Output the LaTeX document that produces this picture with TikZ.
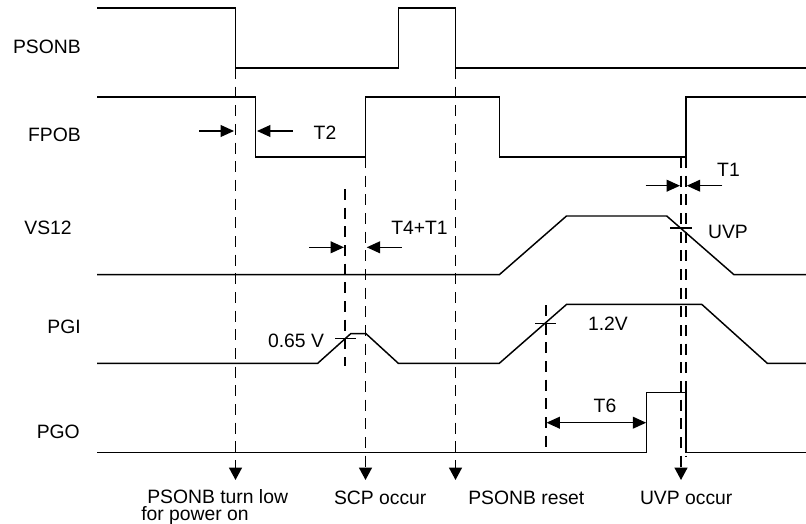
\documentclass[tikz,border=0pt]{standalone}
\usepackage{fontspec}
\setmainfont{Liberation Sans}
\usetikzlibrary{arrows.meta}

\begin{document}
\begin{tikzpicture}[
x=0.75pt, y=-0.75pt,
font=\fontsize{14.5}{13}\selectfont,
signal/.style={line width=1.1pt},
guide/.style={line width=1.1pt, dash pattern=on 8.2pt off 5.8pt},
evline/.style={guide, -{Triangle[length=9.2pt, width=9.6pt]}},
gap/.style={line width=1.1pt, -{Triangle[length=10pt, width=8.8pt]}},
spanline/.style={line width=1.1pt, {Triangle[length=10pt, width=8.8pt]}-{Triangle[length=10pt, width=8.8pt]}},
thr/.style={line width=1.1pt},
signame/.style={anchor=east, inner sep=0pt},
lbl/.style={inner sep=0pt}
]
\useasboundingbox (0,0) rectangle (806,524);

% signal names
\node[signame] (psonb) at (81,47) {PSONB};
\node[signame] (fpob) at (81,135.3) {FPOB};
\node[signame] (vs12) at (72,227.7) {VS12};
\node[signame] (pgi) at (81,326.8) {PGI};
\node[signame] (pgo) at (80,431.8) {PGO};

% waveforms
\draw[signal] (97,8) -- (235.5,8) -- (235.5,68) -- (398.3,68) -- (398.3,8)
  -- (455.5,8) -- (455.5,68) -- (806,68);
\draw[signal] (97,97) -- (255.7,97) -- (255.7,157) -- (365.5,157) -- (365.5,97)
  -- (499.3,97) -- (499.3,157) -- (686,157) -- (686,97) -- (806,97);
\draw[signal] (97,274.7) -- (499.3,274.7) -- (566.5,216) -- (666.7,216)
  -- (734,274.7) -- (806,274.7);
\draw[signal] (97,363.3) -- (317.7,363.3) -- (350.7,333.7) -- (366,333.7)
  -- (398.3,363.3) -- (499.3,363.3) -- (566.7,304.3) -- (701.7,304.3)
  -- (767.3,363.3) -- (806,363.3);
\draw[signal] (97,452.7) -- (646.7,452.7) -- (646.7,392.7) -- (686,392.7)
  -- (686,452.7) -- (806,452.7);

% events
\node[lbl, anchor=north west, align=left] (evlow) at (141,489.3) {\hspace*{4.5pt}PSONB turn low\\for power on};
\node[lbl, anchor=base] (evscp) at (380.2,504) {SCP occur};
\node[lbl, anchor=base] (evreset) at (526.3,504) {PSONB reset};
\node[lbl, anchor=base] (evuvp) at (686.2,504) {UVP occur};

\coordinate (lowtop) at (235.5,68);
\coordinate (lowend) at (235.5,480);
\coordinate (scptop) at (365.5,157);
\coordinate (scpend) at (365.5,480);
\coordinate (resettop) at (455.5,68);
\coordinate (resetend) at (455.5,480);
\coordinate (uvptop) at (681,157);
\coordinate (uvpend) at (681,480);
\draw[evline] (lowtop) -- (lowend);
\draw[evline] (scptop) -- (scpend);
\draw[evline] (resettop) -- (resetend);
\draw[evline] (uvptop) -- (uvpend);

% other guides
\coordinate (g1a) at (345,189);
\coordinate (g1b) at (345,366);
\coordinate (g2a) at (546,305);
\coordinate (g2b) at (546,454);
\coordinate (g3a) at (686,157);
\coordinate (g3b) at (686,456);
\draw[guide] (g1a) -- (g1b);
\draw[guide] (g2a) -- (g2b);
\draw[guide] (g3a) -- (g3b);

% threshold ticks
\draw[thr] (335,338.3) -- (355.7,338.3);
\draw[thr] (535,323.3) -- (556,323.3);
\draw[thr] (670,228) -- (691.7,228);
\node[lbl] (v065) at (296,341) {0.65 V};
\node[lbl] (v12) at (608,323.3) {1.2V};
\node[lbl] (uvp) at (728,231.7) {UVP};

% timing
\coordinate (t2a) at (199,131);
\coordinate (t2b) at (234,131);
\coordinate (t2c) at (292.7,131);
\coordinate (t2d) at (257,131);
\draw[gap] (t2a) -- (t2b);
\draw[gap] (t2c) -- (t2d);
\node[lbl] (t2) at (325,133) {T2};

\coordinate (t41a) at (309,247.3);
\coordinate (t41b) at (344,247.3);
\coordinate (t41c) at (401.7,247.3);
\coordinate (t41d) at (366.7,247.3);
\draw[gap] (t41a) -- (t41b);
\draw[gap] (t41c) -- (t41d);
\node[lbl] (t4t1) at (419.5,228) {T4+T1};

\coordinate (t1a) at (645.7,185.7);
\coordinate (t1b) at (680,185.7);
\coordinate (t1c) at (722.3,185.7);
\coordinate (t1d) at (686.8,185.7);
\draw[gap] (t1a) -- (t1b);
\draw[gap] (t1c) -- (t1d);
\node[lbl] (t1) at (728.5,170) {T1};

\coordinate (t6a) at (546.5,422.7);
\coordinate (t6b) at (646.2,422.7);
\draw[spanline] (t6a) -- (t6b);
\node[lbl] (t6) at (605,406) {T6};
\end{tikzpicture}
\end{document}
